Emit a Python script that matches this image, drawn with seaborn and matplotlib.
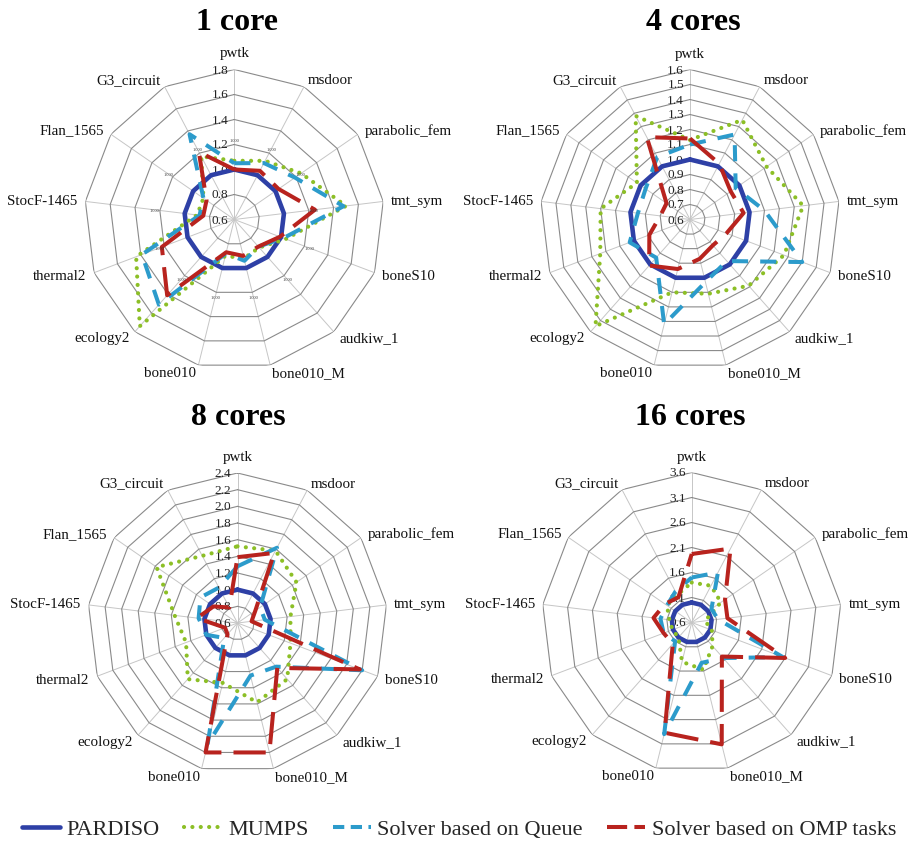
import numpy as np
import pandas as pd
import matplotlib
matplotlib.use("Agg")
import matplotlib.pyplot as plt
import matplotlib.transforms as mtransforms
from matplotlib.lines import Line2D
import seaborn as sns

# ---------------- data ----------------
categories = ["pwtk", "msdoor", "parabolic_fem", "tmt_sym", "boneS10", "audkiw_1",
              "bone010_M", "bone010", "ecology2", "thermal2", "StocF-1465",
              "Flan_1565", "G3_circuit"]

series_names = ["PARDISO", "MUMPS", "Solver based on Queue", "Solver based on OMP tasks"]

# 1 core
pardiso_1 = [1.0, 1.0, 1.0, 1.0, 1.0, 1.0, 1.0, 1.0, 1.0, 1.0, 1.0, 1.0, 1.0]
mumps_1 = [1.07, 1.13, 1.25, 1.50, 1.04, 0.90, 0.92, 0.90, 1.74, 1.44, 0.90, 0.90, 1.17]
queue_1 = [1.05, 1.11, 1.19, 1.48, 1.02, 0.89, 0.94, 0.88, 1.51, 1.39, 0.88, 0.90, 1.37]
omp_1 = [1.00, 1.04, 1.03, 1.25, 0.99, 0.89, 0.90, 0.87, 1.41, 1.22, 0.85, 0.87, 1.21]
ticks_1 = [0.6, 0.8, 1.0, 1.2, 1.4, 1.6, 1.8]

# 4 cores
pardiso_4 = [1.0, 1.0, 1.0, 1.0, 1.0, 1.0, 1.0, 1.0, 1.0, 1.0, 1.0, 1.0, 1.0]
mumps_4 = [1.13, 1.35, 1.22, 1.36, 1.27, 1.19, 1.11, 1.10, 1.55, 1.24, 1.20, 1.03, 1.38]
queue_4 = [1.10, 1.24, 0.97, 1.10, 1.40, 0.97, 1.03, 1.32, 0.94, 1.03, 0.95, 0.96, 1.07]
omp_4 = [1.14, 1.02, 0.93, 0.96, 0.86, 0.83, 0.87, 0.94, 1.01, 0.89, 0.80, 0.79, 1.22]
ticks_4 = [0.6, 0.7, 0.8, 0.9, 1.0, 1.1, 1.2, 1.3, 1.4, 1.5, 1.6]

# 8 cores
pardiso_8 = [1.0, 1.0, 1.0, 1.0, 1.0, 1.0, 1.0, 1.0, 1.0, 1.0, 1.0, 1.0, 1.0]
mumps_8 = [1.52, 1.58, 1.46, 1.24, 1.28, 1.50, 1.58, 1.34, 1.50, 1.26, 1.36, 1.78, 1.51]
queue_8 = [1.28, 1.62, 0.93, 0.93, 2.20, 1.30, 1.25, 2.10, 0.84, 1.00, 1.07, 1.14, 1.08]
omp_8 = [1.39, 1.55, 0.86, 0.77, 2.17, 1.32, 2.20, 2.20, 0.78, 0.76, 1.09, 0.95, 0.81]
ticks_8 = [0.6, 0.8, 1.0, 1.2, 1.4, 1.6, 1.8, 2.0, 2.2, 2.4]

# 16 cores
pardiso_16 = [1.0, 1.0, 1.0, 1.0, 1.0, 1.0, 1.0, 1.0, 1.0, 1.0, 1.0, 1.0, 1.0]
mumps_16 = [1.40, 1.43, 1.31, 0.87, 1.03, 1.23, 1.57, 1.41, 1.00, 1.01, 1.05, 1.20, 1.22]
queue_16 = [1.50, 1.73, 1.08, 1.13, 2.55, 1.55, 1.43, 2.90, 1.10, 1.20, 1.23, 1.20, 1.30]
omp_16 = [1.97, 2.27, 1.41, 1.32, 2.60, 1.51, 3.11, 2.87, 1.17, 1.20, 1.37, 1.25, 1.17]
ticks_16 = [0.6, 1.1, 1.6, 2.1, 2.6, 3.1, 3.6]

titles = ["1 core", "4 cores", "8 cores", "16 cores"]

# ---------------- style ----------------
sns.set_theme(style="white")
plt.rcParams["font.family"] = ["Liberation Serif", "DejaVu Serif"]

styles = [
    dict(color="#2E40A6", lw=3.3, ls="-", cap="round", legls="-"),
    dict(color="#8CBF26", lw=3.0, ls=(0, (0.01, 2.0)), cap="round", legls=(0, (0.01, 2.0))),
    dict(color="#2C9BCB", lw=2.9, ls=(0, (4.0, 3.0)), cap="butt", legls=(0, (2.8, 1.6))),
    dict(color="#B8231E", lw=2.9, ls=(0, (8.0, 3.0)), cap="butt", legls=(0, (5.0, 1.8))),
]

W, H = 918, 845
fig = plt.figure(figsize=(W / 100, H / 100), dpi=100)

panels = [
    dict(cx=234.3, cy=220.5, ticks=ticks_1, data=[pardiso_1, mumps_1, queue_1, omp_1], dl=True,
         tx=237, ty=22),
    dict(cx=690.0, cy=220.5, ticks=ticks_4, data=[pardiso_4, mumps_4, queue_4, omp_4], dl=False,
         tx=693, ty=22),
    dict(cx=237.5, cy=624.0, ticks=ticks_8, data=[pardiso_8, mumps_8, queue_8, omp_8], dl=False,
         tx=238, ty=418),
    dict(cx=691.7, cy=623.5, ticks=ticks_16, data=[pardiso_16, mumps_16, queue_16, omp_16], dl=False,
         tx=690, ty=418),
]
R = 150.0
n = len(categories)
theta = np.linspace(0, 2 * np.pi, n, endpoint=False)
theta_c = np.append(theta, 2 * np.pi)

for p, title in zip(panels, titles):
    ax = fig.add_axes([(p["cx"] - R) / W, (H - p["cy"] - R) / H, 2 * R / W, 2 * R / H],
                      projection="polar")
    ax.set_theta_zero_location("N")
    ax.set_theta_direction(-1)
    lo, hi = p["ticks"][0], p["ticks"][-1]
    ax.set_facecolor("none")
    ax.grid(False)
    ax.spines["polar"].set_visible(False)

    # grid: spokes and polygon rings
    for t in theta:
        ax.plot([t, t], [lo, hi], color="#c6c6c6", lw=0.7, zorder=1)
    for tv in p["ticks"][1:]:
        ax.plot(theta_c, [tv] * (n + 1), color="#8a8a8a", lw=0.8, zorder=1)

    # series
    for name, vals, st in zip(series_names, p["data"], styles):
        df = pd.DataFrame({"theta": theta_c, "value": list(vals) + [vals[0]]})
        sns.lineplot(data=df, x="theta", y="value", sort=False, estimator=None, ax=ax,
                     color=st["color"], lw=st["lw"], linestyle=st["ls"],
                     dash_capstyle=st["cap"], solid_capstyle="round",
                     solid_joinstyle="round", legend=False, zorder=3)

    ax.set_ylim(lo, hi)
    ax.set_xticks([])
    ax.set_yticks([])
    ax.set_xlabel("")
    ax.set_ylabel("")

    # tick labels
    off = mtransforms.offset_copy(ax.transData, fig=fig, x=-6, y=0, units="dots")
    for tv in p["ticks"]:
        ax.text(0, tv, f"{tv:.1f}", transform=off, ha="right", va="center",
                fontsize=9.5, color="#222222", zorder=2)

    # category labels
    r_lab = lo + (hi - lo) * (158 / R)
    r_top = lo + (hi - lo) * (160 / R)
    for t, cat in zip(theta, categories):
        s = np.sin(t)
        if abs(s) < 0.1:
            ax.text(t, r_top, cat, ha="center", va="bottom", fontsize=10.8,
                    color="#111111", clip_on=False)
            continue
        ha = "left" if s > 0 else "right"
        ax.text(t, r_lab, cat, ha=ha, va="center", fontsize=10.8, color="#111111",
                clip_on=False)

    # tiny data labels of PARDISO in the 1-core chart
    if p["dl"]:
        r_dl = lo + (hi - lo) * (80 / R)
        for t, v in zip(theta, p["data"][0]):
            ax.text(t, r_dl, f"{v:.3f}", ha="center", va="center", fontsize=3.2,
                    color="#333333")

    fig.text(p["tx"] / W, 1 - p["ty"] / H, title, ha="center", va="center",
             fontsize=23, fontweight="bold", color="black")

handles = [Line2D([0], [0], color=st["color"], lw=st["lw"], linestyle=st["legls"],
                  dash_capstyle=st["cap"]) for st in styles]
fig.legend(handles, series_names, loc="center", bbox_to_anchor=(0.5, 1 - 830 / H),
           ncol=4, frameon=False, fontsize=16, handlelength=1.7, handletextpad=0.3,
           columnspacing=1.1)

fig.savefig("out.png", dpi=100)
